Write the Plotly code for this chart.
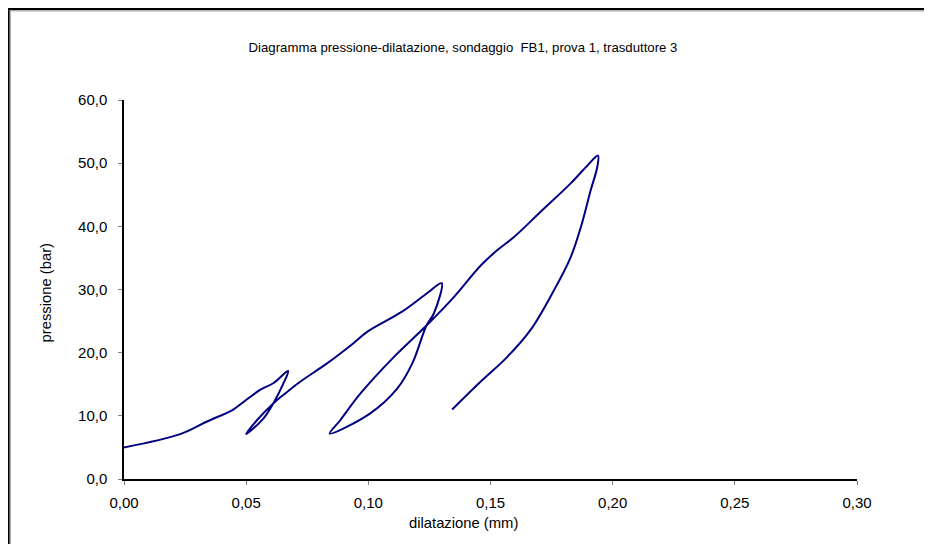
import plotly.graph_objects as go

# dilatazione (mm) and pressione (bar), in drawing order
dilatazione = [
    0.000, 0.023, 0.034, 0.0447, 0.0489, 0.0557, 0.0612, 0.0672,
    0.0652, 0.0612, 0.0571, 0.0500,
    0.0544, 0.0612, 0.0652, 0.0721, 0.0831, 0.0939, 0.0995, 0.1138, 0.1240, 0.1300,
    0.1268, 0.1238, 0.1180, 0.1118, 0.1008, 0.0842,
    0.0885, 0.0967, 0.1104, 0.1238, 0.1350, 0.1460, 0.1527, 0.1596, 0.1705, 0.1828, 0.1896, 0.1940,
    0.1937, 0.1910, 0.1870, 0.1828, 0.1760, 0.1664, 0.1568, 0.1459, 0.1343,
]
pressione = [
    5.0, 7.1, 9.1, 11.0, 12.2, 14.1, 15.2, 17.1,
    15.1, 12.05, 9.6, 7.1,
    9.3, 12.0, 13.3, 15.4, 18.3, 21.5, 23.3, 26.5, 29.4, 31.0,
    26.2, 24.3, 18.3, 14.3, 10.4, 7.2,
    9.3, 13.5, 19.3, 24.3, 28.8, 33.8, 36.2, 38.3, 42.3, 46.8, 49.6, 51.2,
    49.4, 45.7, 39.9, 35.1, 29.9, 23.6, 19.3, 15.4, 11.0,
]

x_ticks = [0.00, 0.05, 0.10, 0.15, 0.20, 0.25, 0.30]
y_ticks = [0, 10, 20, 30, 40, 50, 60]

FONT = "Liberation Sans, Arial, sans-serif"

fig = go.Figure()
fig.add_trace(go.Scatter(
    x=dilatazione, y=pressione, mode="lines",
    line=dict(color="#000080", width=2, shape="spline", smoothing=1.0),
    showlegend=False, hoverinfo="x+y",
))

# page body has an 8px margin: figure pixel = screen pixel - 8
OFF = 8
W, H = 924, 536
L, T = 124 - OFF, 100 - OFF
pw = 733
ph = 379
R = W - L - pw
B = H - T - ph


def px(xs):
    return (xs - OFF - L) / pw


def py(ys):
    return (T + ph - (ys - OFF)) / ph


fig.update_layout(
    width=W, height=H,
    margin=dict(l=L, r=R, t=T, b=B),
    paper_bgcolor="white", plot_bgcolor="white",
    separators=",.",
    font=dict(family=FONT, size=15, color="black"),
    title=dict(
        text="Diagramma pressione-dilatazione, sondaggio  FB1, prova 1, trasduttore 3",
        font=dict(family=FONT, size=13.2, color="black"),
        xref="container", x=(463 - OFF) / W, xanchor="center",
        yref="container", y=1 - (47 - OFF) / H, yanchor="middle",
    ),
    xaxis=dict(
        range=[0, 0.30], tickvals=x_ticks, tickformat=".2f",
        showgrid=False, zeroline=False,
        showline=True, linecolor="black", linewidth=1.5,
        ticks="outside", ticklen=4, tickcolor="#808080", tickwidth=1,
        ticklabelstandoff=5,
        tickfont=dict(family=FONT, size=15, color="black"),
    ),
    yaxis=dict(
        range=[0, 60], tickvals=y_ticks, tickformat=".1f",
        showgrid=False, zeroline=False,
        showline=True, linecolor="black", linewidth=1.5,
        ticks="outside", ticklen=4, tickcolor="#808080", tickwidth=1,
        ticklabelstandoff=8,
        tickfont=dict(family=FONT, size=15, color="black"),
    ),
    annotations=[
        dict(text="dilatazione (mm)", xref="paper", yref="paper",
             x=px(463), y=py(523), xanchor="center", yanchor="middle",
             showarrow=False, font=dict(family=FONT, size=14.8, color="black")),
        dict(text="pressione (bar)", xref="paper", yref="paper",
             x=px(45.5), y=py(293), xanchor="center", yanchor="middle",
             textangle=-90, showarrow=False,
             font=dict(family=FONT, size=14.8, color="black")),
    ],
    shapes=[
        dict(type="rect", xref="paper", yref="paper",
             x0=px(10), x1=px(960), y0=py(570), y1=py(10.5),
             line=dict(color="#b0b0b0", width=2), layer="below"),
        dict(type="rect", xref="paper", yref="paper",
             x0=px(8.5), x1=px(960), y0=py(570), y1=py(9),
             line=dict(color="black", width=2), layer="below"),
    ],
)

fig.write_html("out.html")
